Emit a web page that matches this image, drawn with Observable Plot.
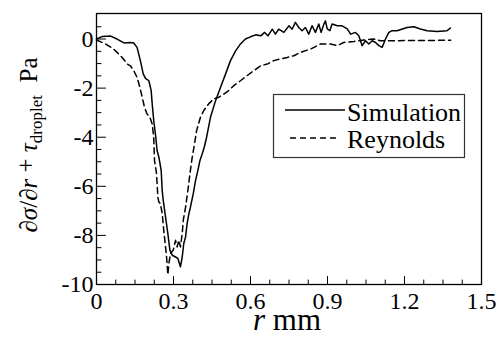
<!DOCTYPE html>
<html><head><meta charset="utf-8">
<script src="https://cdn.jsdelivr.net/npm/d3@7"></script>
<script src="https://cdn.jsdelivr.net/npm/@observablehq/plot@0.6"></script>
<style>
body{margin:0;background:#fff}
#chart{position:relative;width:499px;height:337px}
</style>
</head><body><div id="chart"></div>
<script>
// Simulation series
const simR = [0,0.022,0.055,0.08,0.107,0.132,0.145,0.158,0.171,0.182,0.191,0.204,0.213,0.217,0.223,0.231,0.236,0.243,0.252,0.256,0.260,0.269,0.278,0.286,0.295,0.308,0.317,0.327,0.334,0.340,0.347,0.353,0.360,0.366,0.377,0.386,0.395,0.403,0.412,0.420,0.429,0.444,0.464,0.483,0.503,0.522,0.542,0.561,0.580,0.600,0.620,0.640,0.655,0.668,0.685,0.697,0.710,0.730,0.750,0.762,0.775,0.788,0.801,0.814,0.827,0.840,0.853,0.866,0.875,0.886,0.892,0.899,0.909,0.918,0.938,0.957,0.977,0.990,1.009,1.022,1.035,1.048,1.061,1.074,1.087,1.100,1.113,1.126,1.139,1.152,1.171,1.210,1.237,1.262,1.288,1.327,1.366,1.379];
const simV = [0,0.10,0.12,0.0,-0.16,-0.14,-0.16,-0.34,-0.88,-1.42,-1.60,-1.70,-2.10,-2.64,-3.32,-4.00,-4.54,-4.81,-5.35,-6.17,-6.57,-7.25,-7.93,-8.60,-8.81,-8.88,-8.94,-9.28,-8.88,-8.33,-8.06,-7.52,-7.11,-6.85,-6.30,-5.76,-5.35,-4.95,-4.67,-4.40,-4.00,-3.19,-2.51,-1.97,-1.42,-0.88,-0.48,-0.20,0.00,0.09,0.17,0.13,0.27,0.13,0.40,0.20,0.40,0.27,0.54,0.40,0.68,0.47,0.34,0.47,0.20,0.54,0.27,0.61,0.27,0.61,0.74,0.41,0.34,0.61,0.54,0.54,0.41,0.20,0.27,0.13,-0.27,-0.07,-0.20,-0.07,-0.14,-0.27,-0.34,0.00,0.27,0.34,0.34,0.47,0.50,0.41,0.34,0.31,0.34,0.45];
// Reynolds series
const reyR = [0,0.035,0.067,0.100,0.120,0.132,0.145,0.158,0.169,0.178,0.187,0.197,0.208,0.217,0.223,0.226,0.234,0.239,0.243,0.249,0.256,0.262,0.269,0.273,0.278,0.282,0.288,0.299,0.308,0.314,0.321,0.327,0.334,0.338,0.347,0.356,0.364,0.373,0.382,0.390,0.405,0.418,0.437,0.457,0.477,0.496,0.515,0.535,0.561,0.587,0.613,0.639,0.665,0.691,0.717,0.743,0.769,0.795,0.834,0.873,0.912,0.938,0.963,1.003,1.042,1.080,1.106,1.145,1.250,1.380];
const reyV = [-0.04,-0.20,-0.41,-0.75,-1.02,-1.09,-1.29,-1.56,-1.97,-2.37,-2.78,-3.05,-3.19,-3.46,-4.00,-4.95,-5.49,-6.44,-6.64,-6.71,-7.11,-7.79,-8.47,-8.88,-9.60,-9.15,-8.74,-8.60,-8.20,-8.47,-8.20,-8.47,-7.93,-7.39,-6.85,-6.17,-5.49,-4.81,-4.27,-3.73,-3.19,-2.91,-2.64,-2.44,-2.37,-2.24,-2.10,-1.90,-1.70,-1.49,-1.29,-1.09,-1.02,-0.88,-0.81,-0.75,-0.68,-0.54,-0.41,-0.20,-0.20,-0.27,-0.14,-0.10,-0.04,0.00,-0.07,-0.07,-0.06,-0.05];

const seriesNames = ["Simulation", "Reynolds"];
const xMajor = [0, 0.3, 0.6, 0.9, 1.2, 1.5];
const xTickLabels = ["0", "0.3", "0.6", "0.9", "1.2", "1.5"];
const xMinor = [0.075,0.15,0.225,0.375,0.45,0.525,0.675,0.75,0.825,0.975,1.05,1.125,1.275,1.35,1.425];
const yMajor = [-10, -8, -6, -4, -2, 0];
const yTickLabels = ["-10", "-8", "-6", "-4", "-2", "0"];
const yMinor = [-9.5,-9,-8.5,-7.5,-7,-6.5,-5.5,-5,-4.5,-3.5,-3,-2.5,-1.5,-1,-0.5,0.5];

const sim = simR.map((r, i) => ({r, v: simV[i]}));
const rey = reyR.map((r, i) => ({r, v: reyV[i]}));

const tickShape = {draw(ctx, l) { ctx.moveTo(0, 0); ctx.lineTo(0, -l); }};
const FONT = "Liberation Serif";

const plot = Plot.plot({
  width: 499, height: 337,
  marginLeft: 96, marginRight: 18, marginTop: 13, marginBottom: 53,
  x: {domain: [0, 1.5]},
  y: {domain: [-10, 1.04]},
  marks: [
    Plot.line(rey, {x: "r", y: "v", stroke: "#000", strokeWidth: 1.5, strokeDasharray: "6,4"}),
    Plot.line(sim, {x: "r", y: "v", stroke: "#000", strokeWidth: 1.5}),
    Plot.vector(yMajor, {x: 0, y: d => d, length: 9, rotate: 90, anchor: "start", shape: tickShape, stroke: "#000", strokeWidth: 1}),
    Plot.vector(yMinor, {x: 0, y: d => d, length: 4.5, rotate: 90, anchor: "start", shape: tickShape, stroke: "#000", strokeWidth: 1}),
    Plot.vector(xMajor, {x: d => d, y: -10, length: 8, rotate: 0, anchor: "start", shape: tickShape, stroke: "#000", strokeWidth: 1}),
    Plot.vector(xMinor, {x: d => d, y: -10, length: 4.5, rotate: 0, anchor: "start", shape: tickShape, stroke: "#000", strokeWidth: 1}),
    Plot.axisX(xMajor, {tickSize: 0, tickPadding: 7, tickFormat: d => xTickLabels[xMajor.indexOf(d)], fontSize: 24, label: null}),
    Plot.axisY(yMajor, {tickSize: 0, tickPadding: 3, tickFormat: d => yTickLabels[yMajor.indexOf(d)], fontSize: 24, label: null}),
    Plot.frame({stroke: "#000", strokeWidth: 1.3})
  ]
});

document.getElementById("chart").appendChild(plot);
const svg = d3.select(plot);
svg.attr("font-family", FONT).attr("font-size", 24);
svg.selectAll("text").attr("font-family", FONT);
svg.selectAll("g").attr("font-family", FONT);

// y-axis label
const yl = svg.append("text")
  .attr("transform", "translate(37,145) rotate(-90)")
  .attr("text-anchor", "middle")
  .attr("font-family", FONT)
  .attr("font-size", 25)
  .attr("fill", "#000");
yl.append("tspan").text("\u2202");
yl.append("tspan").attr("font-style", "italic").text("\u03c3");
yl.append("tspan").text("/\u2202");
yl.append("tspan").attr("font-style", "italic").text("r");
yl.append("tspan").attr("dy", -3).text(" + ");
yl.append("tspan").attr("dy", 3).attr("font-style", "italic").text("\u03c4");
yl.append("tspan").attr("font-size", 17).attr("dy", 5).text("droplet");
yl.append("tspan").attr("dy", -5).text("\u00a0\u00a0Pa");

// x-axis label
const xl = svg.append("text")
  .attr("x", 287).attr("y", 330)
  .attr("text-anchor", "middle")
  .attr("font-family", FONT)
  .attr("font-size", 31)
  .attr("fill", "#000");
xl.append("tspan").attr("font-style", "italic").text("r");
xl.append("tspan").text(" mm");

// legend
const lg = svg.append("g").attr("font-family", FONT).attr("text-anchor", "start");
lg.append("rect").attr("x", 273.5).attr("y", 94.5).attr("width", 191).attr("height", 63)
  .attr("fill", "#fff").attr("stroke", "#333").attr("stroke-width", 1.2);
lg.append("line").attr("x1", 285).attr("x2", 345).attr("y1", 110).attr("y2", 110)
  .attr("stroke", "#000").attr("stroke-width", 1.5);
lg.append("line").attr("x1", 290).attr("x2", 340).attr("y1", 138).attr("y2", 138)
  .attr("stroke", "#000").attr("stroke-width", 1.5).attr("stroke-dasharray", "6,4");
lg.append("text").attr("x", 347).attr("y", 121).attr("font-size", 26).attr("fill", "#000").text(seriesNames[0]);
lg.append("text").attr("x", 347).attr("y", 148).attr("font-size", 26).attr("fill", "#000").text(seriesNames[1]);
</script>
</body></html>
